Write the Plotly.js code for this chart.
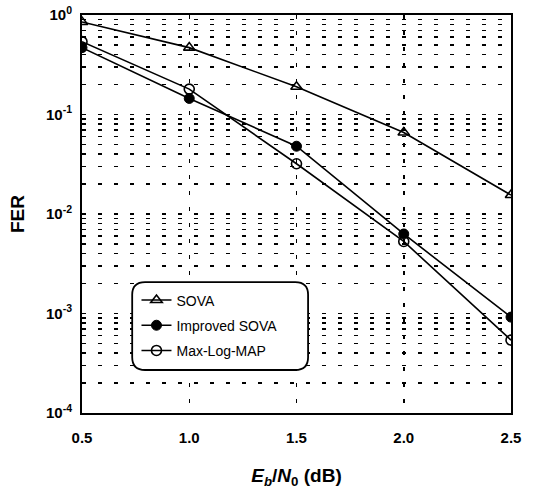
<!DOCTYPE html>
<html>
<head>
<meta charset="utf-8">
<script src="https://cdn.plot.ly/plotly-3.0.1.min.js"></script>
<style>html,body{margin:0;padding:0;background:#fff;}#chart{width:551px;height:491px;}</style>
</head>
<body>
<div id="chart"></div>
<script>
const ebn0 = [0.5, 1.0, 1.5, 2.0, 2.5];
const sova = [0.85, 0.47, 0.19, 0.066, 0.0155];
const improvedSova = [0.47, 0.145, 0.048, 0.0063, 0.00092];
const maxLogMap = [0.54, 0.18, 0.032, 0.0053, 0.00054];
const seriesNames = ['SOVA', 'Improved SOVA', 'Max-Log-MAP'];
const xTickVals = [0.5, 1.0, 1.5, 2.0, 2.5];
const xTickText = ['0.5', '1.0', '1.5', '2.0', '2.5'];
const decades = [-4, -3, -2, -1, 0];

const yTickVals = decades.map(d => Math.pow(10, d));
const yTickText = decades.map(d => '10<sup>' + d + '</sup>');
const yMinorVals = [];
decades.forEach(d => {
  if (d === 0) return;
  for (let m = 2; m <= 9; m++) yMinorVals.push(m * Math.pow(10, d));
});

const lineStyle = {color: '#000', width: 1.6};
const traces = [
  {x: ebn0, y: sova, name: seriesNames[0], mode: 'lines+markers', line: lineStyle,
   marker: {symbol: 'triangle-up-open', size: 10, color: '#000', line: {width: 1.6, color: '#000'}}, legendgroup: 'a'},
  {x: ebn0, y: improvedSova, name: seriesNames[1], mode: 'lines+markers', line: lineStyle,
   marker: {symbol: 'circle', size: 10, color: '#000', line: {width: 1, color: '#000'}}, legendgroup: 'b'},
  {x: ebn0, y: maxLogMap, name: seriesNames[2], mode: 'lines+markers', line: lineStyle,
   marker: {symbol: 'circle-open', size: 10, color: '#000', line: {width: 1.6, color: '#000'}}, legendgroup: 'c'}
];

// rounded legend box in paper coords
const x0 = 0.117, x1 = 0.527, y0 = 0.108, y1 = 0.329, rx = 0.03, ry = 0.032;
const boxPath = `M ${x0+rx},${y1} L ${x1-rx},${y1} Q ${x1},${y1} ${x1},${y1-ry} L ${x1},${y0+ry} Q ${x1},${y0} ${x1-rx},${y0} L ${x0+rx},${y0} Q ${x0},${y0} ${x0},${y0+ry} L ${x0},${y1-ry} Q ${x0},${y1} ${x0+rx},${y1} Z`;

const gridStyle = {gridcolor: '#000', gridwidth: 1.5, griddash: '4px,12px'};

const layout = {
  width: 551, height: 491,
  margin: {l: 82, r: 40, t: 15, b: 78},
  paper_bgcolor: '#fff', plot_bgcolor: '#fff',
  font: {family: 'Liberation Sans, Arial, sans-serif', color: '#000'},
  xaxis: Object.assign({
    range: [0.5, 2.5], tickvals: xTickVals, ticktext: xTickText,
    tickfont: {size: 15, weight: 'bold'},
    showline: true, mirror: true, linecolor: '#000', linewidth: 2,
    showgrid: true,
    zeroline: false, ticks: '', ticklabelstandoff: 10,
    title: {text: '<i>E<sub>b</sub></i>/<i>N</i><sub>0</sub> (dB)', font: {size: 19, weight: 'bold'}, standoff: 24}
  }, gridStyle),
  yaxis: Object.assign({
    type: 'log', range: [-4, 0], tickvals: yTickVals, ticktext: yTickText,
    tickfont: {size: 15, weight: 'bold'},
    showline: true, mirror: true, linecolor: '#000', linewidth: 2,
    showgrid: true,
    minor: Object.assign({tickvals: yMinorVals, showgrid: true, ticks: ''}, gridStyle),
    zeroline: false, ticks: '', ticklabelstandoff: 5,
    title: {text: 'FER', font: {size: 19, weight: 'bold'}, standoff: 16}
  }, gridStyle),
  showlegend: true,
  legend: {
    x: 0.127, y: 0.323, xanchor: 'left', yanchor: 'top',
    bgcolor: 'rgba(0,0,0,0)', borderwidth: 0,
    font: {size: 14, color: '#000'},
    traceorder: 'grouped', tracegroupgap: 4, itemwidth: 30
  },
  shapes: [{type: 'path', xref: 'paper', yref: 'paper', path: boxPath,
    fillcolor: '#fff', line: {color: '#000', width: 1.8}, layer: 'above'}]
};

Plotly.newPlot('chart', traces, layout, {displayModeBar: false, staticPlot: true});
</script>
</body>
</html>
